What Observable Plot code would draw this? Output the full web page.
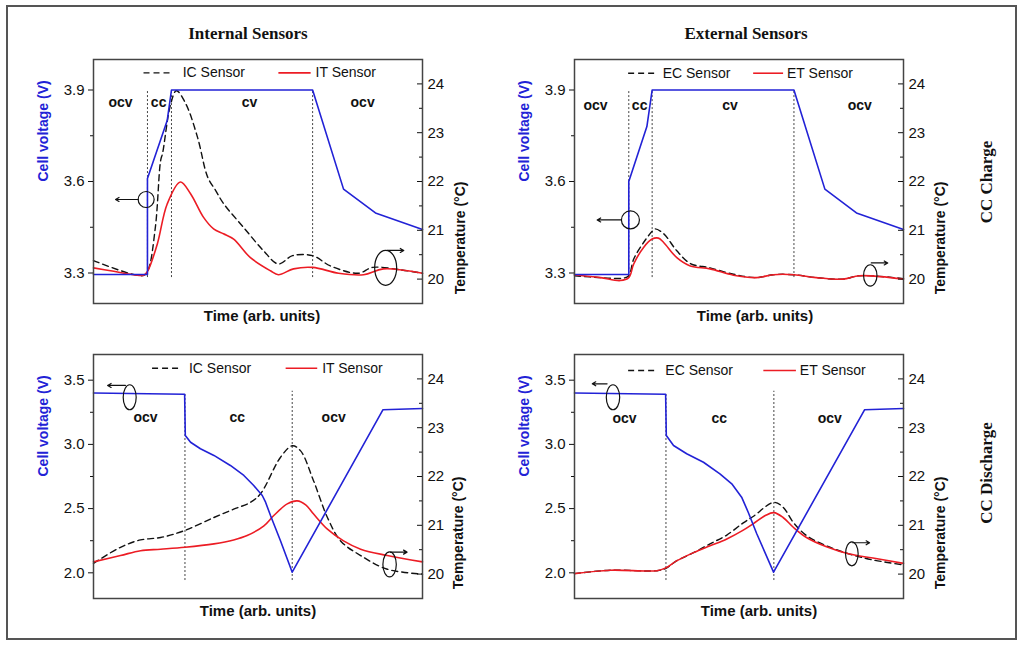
<!DOCTYPE html>
<html>
<head>
<meta charset="utf-8">
<script src="https://cdn.jsdelivr.net/npm/d3@7"></script>
<script src="https://cdn.jsdelivr.net/npm/@observablehq/plot@0.6"></script>
<style>
  body { margin: 0; background: #fff; }
  #page { position: relative; width: 1024px; height: 648px; overflow: hidden; }
  #border { position: absolute; left: 6px; top: 5px; width: 1007px; height: 631px; border: 2px solid #555; }
  .title { position: absolute; font-family: "Liberation Serif", "Times New Roman", serif; font-weight: bold;
           font-size: 17px; color: #111; white-space: nowrap; transform: translate(-50%, -50%); }
  .rot { transform: translate(-50%, -50%) rotate(-90deg); }
  .panel { position: absolute; }
</style>
</head>
<body>
<div id="page">
  <div id="border"></div>
  <div class="title" style="left:248px;top:34px">Internal Sensors</div>
  <div class="title" style="left:746px;top:34px">External Sensors</div>
  <div class="title rot" style="left:987px;top:182px">CC Charge</div>
  <div class="title rot" style="left:987px;top:473px">CC Discharge</div>
</div>
<script>
// axes
const tempDomain = [19.5, 24.5];
const tempTicks = [20, 21, 22, 23, 24];
const tempMinor = [20.5, 21.5, 22.5, 23.5];
const chgVDomain = [3.2, 4.0];
const chgVTicks = [3.3, 3.6, 3.9];
const chgVMinor = [3.45, 3.75];
const dchVDomain = [1.8, 3.7];
const dchVTicks = [2.0, 2.5, 3.0, 3.5];
const dchVMinor = [2.25, 2.75, 3.25];

const chgPhaseNames = ["ocv", "cc", "cv", "ocv"];
const dchPhaseNames = ["ocv", "cc", "ocv"];

// CC charge, internal sensors
const chgIntVoltT = [0, 16.4, 16.4, 22.4, 23.7, 66.6, 76.0, 85.7, 100];
const chgIntVolt  = [3.295, 3.295, 3.61, 3.80, 3.90, 3.90, 3.575, 3.497, 3.443];
const chgIcT   = [0, 15.0, 16.5, 18.8, 20.4, 21.0, 23.4, 25.2, 28.0, 31.6, 34.7, 37.1, 39.5, 45.6, 51.7, 56.2, 60.5, 66.6, 72.0, 80.5, 84.8, 93.3, 100];
const chgIcTemp = [20.38, 20.07, 20.17, 21.06, 22.43, 22.58, 23.57, 23.86, 23.6, 22.91, 22.09, 21.82, 21.55, 21.06, 20.58, 20.31, 20.48, 20.48, 20.27, 20.12, 20.24, 20.19, 20.12];
const chgItT   = [0, 5.2, 13.3, 15.3, 16.5, 19.4, 22.4, 26.4, 29.5, 33.4, 36.5, 39.5, 42.6, 47.7, 53.8, 56.2, 60.8, 66.6, 74.5, 82.1, 88.1, 100];
const chgItTemp = [20.23, 20.17, 20.08, 20.08, 20.17, 20.72, 21.54, 21.99, 21.75, 21.27, 21.03, 20.93, 20.82, 20.44, 20.17, 20.09, 20.21, 20.24, 20.12, 20.09, 20.21, 20.12];
const chgIntPhaseT = [16.4, 23.7, 66.6];

// CC charge, external sensors
const chgExtVoltT = [0, 16.5, 16.5, 22.0, 23.6, 66.7, 76.1, 85.7, 100];
const chgExtVolt  = [3.295, 3.295, 3.60, 3.78, 3.90, 3.90, 3.575, 3.497, 3.443];
const chgEcT   = [0, 7.9, 14.9, 16.5, 18.0, 21.0, 23.6, 24.5, 27.1, 31.1, 35.2, 41.2, 48.3, 55.4, 60.4, 66.7, 73.5, 81.6, 86.7, 100];
const chgEcTemp = [20.07, 20.03, 20.02, 20.07, 20.41, 20.75, 20.98, 21.03, 20.93, 20.58, 20.32, 20.23, 20.10, 20.03, 20.09, 20.09, 20.03, 20.0, 20.07, 20.01];
const chgEtT   = [0, 7.9, 13.9, 16.5, 18.0, 21.0, 23.6, 25.5, 27.1, 31.1, 35.2, 41.2, 48.3, 55.4, 60.4, 66.7, 73.5, 81.6, 86.7, 100];
const chgEtTemp = [20.09, 20.03, 19.97, 20.03, 20.31, 20.65, 20.82, 20.84, 20.75, 20.44, 20.27, 20.21, 20.08, 20.03, 20.09, 20.09, 20.03, 20.0, 20.07, 20.0];
const chgExtPhaseT = [16.5, 23.6, 66.7];

// CC discharge, internal sensors
const dchIntVoltT = [0, 27.7, 27.9, 29.5, 32.5, 36.6, 41.6, 45.7, 48.7, 51.3, 52.3, 53.8, 56.8, 60.4, 88.0, 100];
const dchIntVolt  = [3.40, 3.39, 3.07, 3.017, 2.966, 2.914, 2.836, 2.758, 2.680, 2.602, 2.55, 2.446, 2.252, 2.005, 3.27, 3.28];
const dchIcT   = [0, 8.2, 14.3, 20.4, 27.6, 36.6, 42.6, 47.7, 50.8, 56.8, 60.4, 62.9, 66.9, 71.1, 75.1, 81.2, 89.3, 100];
const dchIcTemp = [20.22, 20.55, 20.70, 20.75, 20.89, 21.16, 21.33, 21.47, 21.65, 22.39, 22.63, 22.53, 21.91, 21.16, 20.68, 20.38, 20.10, 20.0];
const dchItT   = [0, 8.2, 14.3, 20.4, 27.8, 36.6, 42.6, 46.7, 51.8, 54.8, 58.9, 61.9, 64.5, 66.9, 71.1, 76.0, 81.2, 89.3, 100];
const dchItTemp = [20.25, 20.38, 20.48, 20.51, 20.55, 20.62, 20.70, 20.79, 20.99, 21.20, 21.44, 21.50, 21.42, 21.23, 20.92, 20.68, 20.51, 20.38, 20.25];
const dchIntPhaseT = [27.8, 60.4];

// CC discharge, external sensors
const dchExtVoltT = [0, 27.7, 27.9, 30.1, 34.1, 39.2, 44.2, 47.8, 50.8, 52.8, 55.4, 60.5, 88.2, 100];
const dchExtVolt  = [3.40, 3.39, 3.069, 2.991, 2.927, 2.861, 2.771, 2.693, 2.589, 2.472, 2.304, 2.005, 3.27, 3.28];
const dchEcT   = [0, 10.9, 25.1, 27.8, 31.0, 36.2, 41.2, 46.3, 51.3, 54.3, 60.6, 63.4, 66.5, 70.5, 76.6, 83.6, 90.7, 100];
const dchEcTemp = [20.01, 20.08, 20.07, 20.12, 20.27, 20.44, 20.62, 20.80, 21.05, 21.18, 21.47, 21.37, 21.06, 20.79, 20.58, 20.41, 20.29, 20.19];
const dchEtT   = [0, 10.9, 25.1, 27.8, 31.0, 36.2, 41.2, 46.3, 51.3, 54.3, 58.0, 60.6, 63.4, 66.5, 70.5, 76.6, 83.6, 90.7, 100];
const dchEtTemp = [20.01, 20.08, 20.07, 20.13, 20.27, 20.44, 20.58, 20.72, 20.90, 21.03, 21.20, 21.26, 21.16, 20.96, 20.75, 20.56, 20.41, 20.33, 20.22];
const dchExtPhaseT = [27.8, 60.6];

const blue = "#2222d6", red = "#ec1c24", ink = "#111";
const font = "Liberation Sans, Arial, sans-serif";

// ellipse drawn as a dot symbol
function ellipse(rx, ry) {
  const k = 0.5523;
  return {draw(c) {
    c.moveTo(rx, 0);
    c.bezierCurveTo(rx, ry * k, rx * k, ry, 0, ry);
    c.bezierCurveTo(-rx * k, ry, -rx, ry * k, -rx, 0);
    c.bezierCurveTo(-rx, -ry * k, -rx * k, -ry, 0, -ry);
    c.bezierCurveTo(rx * k, -ry, rx, -ry * k, rx, 0);
    c.closePath();
  }};
}

function panel(cfg) {
  const [v0, v1] = cfg.vDomain;
  const toV = T => v0 + (T - tempDomain[0]) / (tempDomain[1] - tempDomain[0]) * (v1 - v0);
  const fromV = v => tempDomain[0] + (v - v0) / (v1 - v0) * (tempDomain[1] - tempDomain[0]);
  const volt = d3.zip(cfg.voltT, cfg.volt).map(([t, v]) => ({t, v}));
  const dash = d3.zip(cfg.dashT, cfg.dashTemp).map(([t, T]) => ({t, v: toV(T)}));
  const solid = d3.zip(cfg.solidT, cfg.solidTemp).map(([t, T]) => ({t, v: toV(T)}));
  const phases = cfg.phaseT.map((t, i) => ({t, hi: cfg.phaseHi[i], lo: cfg.phaseLo}));
  const phaseLabels = cfg.phaseNames.map((name, i) => ({name, t: cfg.phaseLabelT[i], v: cfg.phaseLabelV}));
  const lg = cfg.legend;
  const tickMajor = tempTicks.map(toV);
  const tickMinor = tempMinor.map(toV);

  const chart = Plot.plot({
    width: 500,
    height: 300,
    marginLeft: cfg.ml,
    marginRight: 500 - cfg.ml - 329,
    marginTop: 19,
    marginBottom: 37,
    style: {fontFamily: font, fontSize: "14px", color: ink, background: "transparent", overflow: "visible"},
    x: {domain: [0, 100], axis: null},
    y: {domain: cfg.vDomain, axis: null, label: null},
    marks: [
      Plot.ruleX(phases, {x: "t", y1: "lo", y2: "hi", stroke: "#444", strokeWidth: 1, strokeDasharray: "2,2"}),
      Plot.line(dash, {x: "t", y: "v", stroke: ink, strokeWidth: 1.4, strokeDasharray: "6,4", curve: "catmull-rom"}),
      Plot.line(solid, {x: "t", y: "v", stroke: red, strokeWidth: 1.6, curve: "catmull-rom"}),
      Plot.line(volt, {x: "t", y: "v", stroke: blue, strokeWidth: 1.6}),
      Plot.frame({stroke: "#444", strokeWidth: 1.5}),
      // left voltage axis
      Plot.axisY(cfg.vTicks, {anchor: "left", tickSize: 5, tickPadding: 4, fontSize: 15, label: null, tickFormat: d3.format(".1f")}),
      Plot.axisY(cfg.vMinor, {anchor: "left", tickSize: 3, fill: "none", label: null}),
      // right temperature axis, ticks pointing inward
      Plot.axisY(tickMajor, {anchor: "left", frameAnchor: "right", tickSize: 5, fill: "none", label: null}),
      Plot.axisY(tickMinor, {anchor: "left", frameAnchor: "right", tickSize: 3, fill: "none", label: null}),
      Plot.axisY(tickMajor, {anchor: "right", tickSize: 0, tickPadding: 5, fontSize: 15, label: null, tickFormat: v => Math.round(fromV(v))}),
      // axis titles
      Plot.text(["Cell voltage (V)"], {text: d => d, frameAnchor: "left", dx: -50, rotate: -90, fill: blue, fontWeight: "bold", fontSize: 14}),
      Plot.text(["Temperature (°C)"], {text: d => d, frameAnchor: "right", dx: cfg.rdx, rotate: -90, fill: ink, fontWeight: "bold", fontSize: 14}),
      Plot.text(["Time (arb. units)"], {text: d => d, frameAnchor: "bottom", dy: 17, dx: cfg.xdx, fill: ink, fontWeight: "bold", fontSize: 15}),
      // phase names
      Plot.text(phaseLabels, {x: "t", y: "v", text: "name", fontWeight: "bold", fontSize: 14, fill: ink}),
      // legend
      Plot.link([lg], {x1: "d1", x2: "d2", y1: "v", y2: "v", stroke: ink, strokeWidth: 1.4, strokeDasharray: "6,4"}),
      Plot.link([lg], {x1: "s1", x2: "s2", y1: "v", y2: "v", stroke: red, strokeWidth: 1.6}),
      Plot.text([lg], {x: "dt", y: "v", text: "dName", textAnchor: "start", fontSize: 14, fill: ink}),
      Plot.text([lg], {x: "st", y: "v", text: "sName", textAnchor: "start", fontSize: 14, fill: ink}),
      // axis pointers
      ...cfg.marks.map(m => Plot.dot([m], {x: "t", y: "v", symbol: ellipse(m.rx, m.ry), r: 5, stroke: ink, strokeWidth: 1.2, fill: "none"})),
      Plot.arrow(cfg.marks, {x1: "a1", x2: "a2", y1: "av", y2: "av", stroke: ink, strokeWidth: 1.2, headLength: 5})
    ]
  });
  chart.classList.add("panel");
  chart.style.left = cfg.left + "px";
  chart.style.top = cfg.top + "px";
  document.getElementById("page").append(chart);
}

panel({
  left: 0, top: 40, ml: 93, rdx: 38, xdx: 4,
  vDomain: chgVDomain, vTicks: chgVTicks, vMinor: chgVMinor,
  voltT: chgIntVoltT, volt: chgIntVolt,
  dashT: chgIcT, dashTemp: chgIcTemp, solidT: chgItT, solidTemp: chgItTemp,
  phaseT: chgIntPhaseT, phaseHi: [3.9, 3.9, 3.9], phaseLo: 3.285,
  phaseNames: chgPhaseNames, phaseLabelT: [8.2, 19.8, 47.4, 81.8], phaseLabelV: 3.86,
  legend: {v: 3.956, d1: 15.2, d2: 24.3, dt: 27.1, dName: "IC Sensor", s1: 56.2, s2: 66.0, st: 67.5, sName: "IT Sensor"},
  marks: [
    {t: 16.0, v: 3.541, rx: 8, ry: 8, a1: 13.6, a2: 6.7, av: 3.541},
    {t: 88.8, v: 3.317, rx: 11, ry: 17.5, a1: 89.3, a2: 94.3, av: 3.374}
  ]
});

panel({
  left: 480, top: 40, ml: 94, rdx: 37, xdx: 16,
  vDomain: chgVDomain, vTicks: chgVTicks, vMinor: chgVMinor,
  voltT: chgExtVoltT, volt: chgExtVolt,
  dashT: chgEcT, dashTemp: chgEcTemp, solidT: chgEtT, solidTemp: chgEtTemp,
  phaseT: chgExtPhaseT, phaseHi: [3.9, 3.9, 3.9], phaseLo: 3.285,
  phaseNames: chgPhaseNames, phaseLabelT: [6.4, 19.8, 47.3, 86.7], phaseLabelV: 3.849,
  legend: {v: 3.955, d1: 16.3, d2: 24.8, dt: 26.8, dName: "EC Sensor", s1: 54.3, s2: 63.4, st: 64.6, sName: "ET Sensor"},
  marks: [
    {t: 17.0, v: 3.474, rx: 9, ry: 9, a1: 14.2, a2: 6.9, av: 3.474},
    {t: 89.9, v: 3.292, rx: 6.7, ry: 10.7, a1: 90.2, a2: 95.2, av: 3.333}
  ]
});

panel({
  left: 0, top: 335, ml: 93, rdx: 36, xdx: 0,
  vDomain: dchVDomain, vTicks: dchVTicks, vMinor: dchVMinor,
  voltT: dchIntVoltT, volt: dchIntVolt,
  dashT: dchIcT, dashTemp: dchIcTemp, solidT: dchItT, solidTemp: dchItTemp,
  phaseT: dchIntPhaseT, phaseHi: [3.39, 3.414], phaseLo: 1.94,
  phaseNames: dchPhaseNames, phaseLabelT: [15.8, 43.7, 73.0], phaseLabelV: 3.212,
  legend: {v: 3.593, d1: 17.8, d2: 26.4, dt: 29.0, dName: "IC Sensor", s1: 58.4, s2: 68.0, st: 69.5, sName: "IT Sensor"},
  marks: [
    {t: 11.0, v: 3.367, rx: 6.5, ry: 12.5, a1: 9.7, a2: 4.3, av: 3.459},
    {t: 90.0, v: 2.065, rx: 6.7, ry: 12.5, a1: 90.3, a2: 95.3, av: 2.161}
  ]
});

panel({
  left: 480, top: 335, ml: 94, rdx: 37, xdx: 20,
  vDomain: dchVDomain, vTicks: dchVTicks, vMinor: dchVMinor,
  voltT: dchExtVoltT, volt: dchExtVolt,
  dashT: dchEcT, dashTemp: dchEcTemp, solidT: dchEtT, solidTemp: dchEtTemp,
  phaseT: dchExtPhaseT, phaseHi: [3.39, 3.414], phaseLo: 1.94,
  phaseNames: dchPhaseNames, phaseLabelT: [15.2, 44.0, 77.6], phaseLabelV: 3.20,
  legend: {v: 3.575, d1: 16.3, d2: 24.8, dt: 27.6, dName: "EC Sensor", s1: 57.4, s2: 67.3, st: 68.5, sName: "ET Sensor"},
  marks: [
    {t: 11.7, v: 3.367, rx: 6.7, ry: 12.5, a1: 9.9, a2: 5.4, av: 3.472},
    {t: 84.3, v: 2.148, rx: 6.3, ry: 12, a1: 84.6, a2: 89.7, av: 2.234}
  ]
});
</script>
</body>
</html>
